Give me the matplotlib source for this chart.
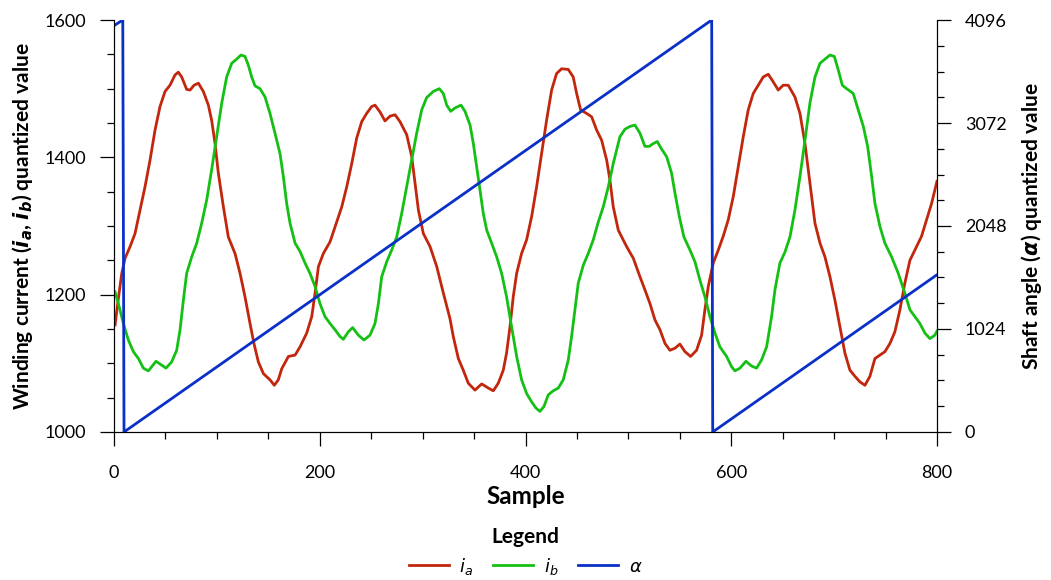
import matplotlib
matplotlib.use("Agg")
import matplotlib.pyplot as plt
from matplotlib.ticker import MultipleLocator

plt.rcParams["font.family"] = ["Lato", "DejaVu Sans"]
plt.rcParams["mathtext.fontset"] = "dejavusans"

# winding current i_a
ia_x = [1, 4, 7.5, 10.7, 15.6, 20.4, 25.3, 30.1, 35, 39.9,
        44.7, 49.6, 54.4, 59.3, 62.5, 65.8, 70.6, 73.9, 77.8, 82,
        86.8, 91.7, 94.9, 98.2, 101.4, 106.3, 111.1, 117.6, 122.5, 127.3,
        132.2, 136, 140.3, 145.2, 151.6, 155.8, 159.7, 163, 169.5, 176,
        180.8, 187.3, 192.2, 195.4, 198.7, 203.5, 210, 214.9, 221.4, 226.2,
        231.1, 235.9, 240.8, 245.6, 250.5, 253.7, 258.6, 263.4, 268.3, 273.2,
        278, 284.5, 289.4, 292.6, 295.9, 300.7, 307.2, 313.7, 320.2, 326.6,
        329.8, 334.7, 339.5, 344.4, 350.9, 357.4, 363.8, 368.7, 373.5, 378.4,
        381.6, 384.9, 388.1, 391.4, 396.2, 401.1, 406, 410.8, 415.7, 420.5,
        425.4, 430.2, 435.1, 441.6, 446.4, 449.7, 453.6, 459.4, 464.3, 469.1,
        474, 478.9, 482.1, 485.3, 490.2, 498.3, 504.8, 511.3, 516.1, 521,
        525.9, 530.7, 535.6, 540.4, 545.3, 550.1, 555, 560.5, 566.3, 571.2,
        574.4, 577.7, 582.5, 587.4, 592.2, 597.1, 602, 606.8, 611.7, 616.5,
        621.4, 626.3, 631.1, 636, 640.8, 645.7, 650.5, 655.4, 661.9, 666.8,
        671.7, 676.5, 681.4, 686.3, 691.1, 696, 700.8, 705.7, 710.5, 715.4,
        720.3, 725.1, 730, 734.8, 739.7, 744.6, 749.4, 754.3, 759.1, 764,
        768.8, 773.7, 780.2, 785, 789.9, 794.8, 800]
ia_y = [1156, 1192, 1231, 1253, 1270, 1289, 1323, 1357, 1396, 1440,
        1474, 1496, 1505, 1520, 1524, 1517, 1499, 1498, 1505, 1508,
        1496, 1476, 1454, 1420, 1377, 1328, 1284, 1260, 1231, 1197,
        1158, 1129, 1102, 1085, 1076, 1068, 1076, 1092, 1110, 1112,
        1124, 1144, 1168, 1202, 1241, 1260, 1277, 1299, 1328, 1357,
        1391, 1428, 1452, 1464, 1474, 1476, 1466, 1453, 1460, 1462,
        1452, 1433, 1401, 1362, 1323, 1289, 1270, 1241, 1202, 1165,
        1139, 1107, 1090, 1071, 1061, 1070, 1064, 1060, 1071, 1090,
        1115, 1153, 1197, 1231, 1260, 1280, 1314, 1357, 1406, 1454,
        1498, 1522, 1529, 1528, 1517, 1493, 1469, 1464, 1459, 1440,
        1425, 1396, 1367, 1328, 1294, 1270, 1253, 1226, 1207, 1187,
        1163, 1149, 1129, 1119, 1122, 1128, 1117, 1110, 1119, 1141,
        1178, 1212, 1246, 1265, 1285, 1309, 1343, 1386, 1430, 1469,
        1493, 1505, 1517, 1521, 1510, 1498, 1505, 1505, 1488, 1464,
        1420, 1362, 1304, 1275, 1255, 1226, 1192, 1153, 1115, 1090,
        1081, 1073, 1068, 1081, 1107, 1112, 1117, 1129, 1146, 1178,
        1217, 1250, 1270, 1285, 1309, 1333, 1365]

# winding current i_b
ib_x = [1, 4.2, 9.1, 13.9, 18.8, 23.7, 28.5, 33.4, 36.6, 40.8,
        44.7, 50.5, 56, 60.9, 64.2, 67.4, 70.6, 75.5, 80.4, 85.2,
        90.1, 94.9, 99.8, 104.7, 109.5, 114.4, 119.2, 123.4, 127.3, 130.6,
        133.8, 137.1, 141.9, 146.8, 151.6, 156.5, 161.4, 164.6, 167.8, 171.1,
        176, 180.8, 185.7, 190.5, 195.4, 200.2, 205.1, 210, 214.8, 219.7,
        222.9, 227.8, 232, 237.5, 243, 248.8, 253.7, 257, 260.2, 265.1,
        269.9, 274.8, 279.6, 284.5, 289.4, 294.2, 299.1, 303.9, 310.4, 316.2,
        320.1, 323.4, 327.3, 331.5, 337.3, 341.2, 346.1, 349.3, 352.6, 355.8,
        359, 362.3, 367.1, 372, 376.8, 381.6, 386.5, 391.4, 396.2, 401.1,
        405.9, 410.1, 414, 417.9, 422.1, 427, 431.9, 436.7, 441.6, 444.8,
        448.1, 451.3, 456.2, 461, 465.9, 470.8, 475.6, 480.5, 485.3, 491.8,
        496.7, 501.6, 506.4, 511.3, 516.1, 520.3, 524.2, 528.1, 532.3, 537.2,
        542, 545.3, 549.5, 554, 559.9, 564.7, 569.6, 574.4, 579.3, 584.2,
        589, 595.5, 600.4, 603.6, 608.5, 614.3, 619.8, 624.6, 629.5, 634.4,
        639.2, 642.5, 647.3, 652.2, 657.1, 661.9, 666.8, 671.7, 676.5, 681.4,
        686.3, 691.1, 696, 700.2, 704.1, 708, 712.2, 718.6, 723.5, 728.4,
        732.6, 736.5, 739.7, 744.6, 749.4, 755.9, 762.4, 768.8, 773.7, 778.5,
        783.4, 788.3, 793.1, 798, 800]
ib_y = [1204, 1187, 1158, 1134, 1117, 1107, 1093, 1089, 1095, 1103,
        1099, 1093, 1102, 1119, 1149, 1192, 1231, 1255, 1275, 1304,
        1338, 1382, 1430, 1479, 1517, 1537, 1543, 1549, 1547, 1534,
        1517, 1504, 1500, 1488, 1464, 1435, 1405, 1372, 1333, 1304,
        1275, 1263, 1246, 1231, 1212, 1187, 1168, 1158, 1149, 1139,
        1135, 1146, 1152, 1141, 1134, 1141, 1158, 1187, 1226, 1248,
        1265, 1284, 1318, 1357, 1396, 1435, 1469, 1487, 1496, 1500,
        1493, 1476, 1467, 1472, 1476, 1467, 1447, 1420, 1386, 1352,
        1318, 1294, 1275, 1255, 1231, 1197, 1153, 1110, 1076, 1056,
        1044, 1035, 1030, 1037, 1054, 1060, 1064, 1076, 1105, 1139,
        1178, 1217, 1243, 1260, 1280, 1306, 1328, 1357, 1391, 1430,
        1441, 1445, 1447, 1435, 1416, 1416, 1420, 1423, 1412, 1401,
        1377, 1348, 1314, 1284, 1265, 1248, 1221, 1197, 1168, 1144,
        1124, 1110, 1095, 1089, 1093, 1103, 1096, 1093, 1105, 1124,
        1168, 1207, 1246, 1262, 1284, 1323, 1372, 1425, 1479, 1517,
        1537, 1543, 1549, 1547, 1527, 1505, 1500, 1493, 1469, 1445,
        1416, 1372, 1333, 1299, 1275, 1255, 1231, 1202, 1178, 1168,
        1158, 1144, 1136, 1141, 1147]

# shaft angle alpha
alpha_x = [0, 8.5, 9.7, 581, 582, 800]
alpha_y = [4040, 4096, 0, 4096, 0, 1563]

RED, GREEN, BLUE = "#c2260c", "#14c014", "#0a30c8"

fig = plt.figure(figsize=(10.51, 5.80), dpi=100)
ax = fig.add_axes([0.1085, 0.2552, 0.783, 0.7103])
ax2 = ax.twinx()

l1, = ax.plot(ia_x, ia_y, color=RED, lw=2.0, label="$i_a$")
l2, = ax.plot(ib_x, ib_y, color=GREEN, lw=2.0, label="$i_b$")
l3, = ax2.plot(alpha_x, alpha_y, color=BLUE, lw=2.0, label=r"$\alpha$")

ax.set_xlim(0, 800)
ax.set_ylim(1000, 1600)
ax2.set_ylim(0, 4096)

ax.xaxis.set_major_locator(MultipleLocator(200))
ax.xaxis.set_minor_locator(MultipleLocator(50))
ax.yaxis.set_major_locator(MultipleLocator(200))
ax.yaxis.set_minor_locator(MultipleLocator(50))
ax2.yaxis.set_major_locator(MultipleLocator(1024))
ax2.yaxis.set_minor_locator(MultipleLocator(256))

for a in (ax, ax2):
    a.spines["top"].set_visible(False)
    a.tick_params(which="major", direction="out", length=10, width=0.9,
                  labelsize=13, pad=10)
    a.tick_params(which="minor", direction="out", length=5, width=0.9)
ax.tick_params(axis="x", which="major", pad=14)

ax.set_xlabel("Sample", fontsize=17.5, fontweight="bold", labelpad=3)
ax.set_ylabel(r"Winding current ($\mathbfit{i}_{\mathbfit{a}}$, $\mathbfit{i}_{\mathbfit{b}}$) quantized value",
              fontsize=15, fontweight="bold", labelpad=7)
ax2.set_ylabel(r"Shaft angle ($\mathbfit{\alpha}$) quantized value",
               fontsize=15, fontweight="bold", labelpad=9)

leg = fig.legend(handles=[l1, l2, l3], loc="upper center",
                 bbox_to_anchor=(0.5, 0.12), ncol=3, frameon=False,
                 title="Legend", fontsize=13, handlelength=2.2,
                 columnspacing=1.1, handletextpad=0.6)
leg.get_title().set_fontweight("bold")
leg.get_title().set_fontsize(15)

fig.savefig("out.png", dpi=100)
